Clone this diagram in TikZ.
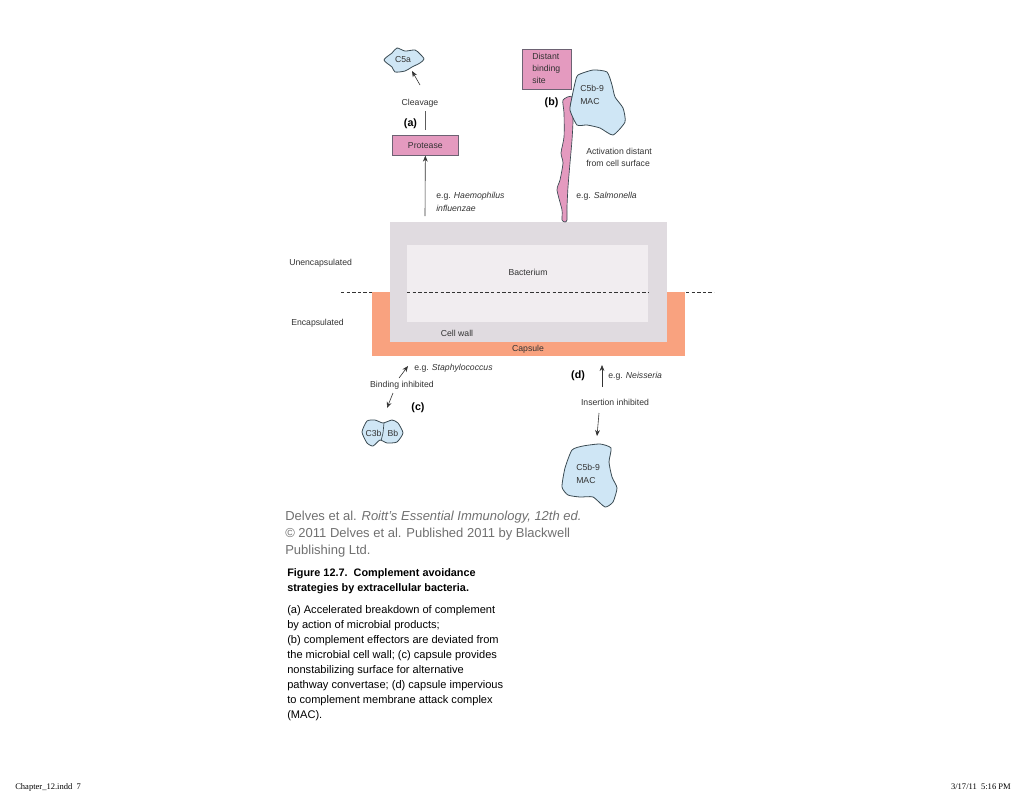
\documentclass[tikz,border=0pt]{standalone}
\usepackage{fontspec}
\setmainfont{Liberation Sans}
\newfontfamily\footfont{Liberation Serif}
\usetikzlibrary{arrows.meta}
\definecolor{wallc}{HTML}{E0DBE0}
\definecolor{innerc}{HTML}{F1EDF0}
\definecolor{capc}{HTML}{F9A27F}
\definecolor{pinkc}{HTML}{E49ABF}
\definecolor{bluec}{HTML}{CFE6F5}
\definecolor{inkc}{HTML}{333333}
\definecolor{edgec}{HTML}{3A4A52}
\definecolor{credc}{HTML}{707070}
\tikzset{
  lab/.style={font=\fontsize{6.5}{9.4}\selectfont,text=inkc,inner sep=0pt,align=left},
  tag/.style={font=\fontsize{8}{10}\selectfont\bfseries,text=black,inner sep=0pt},
  pinkbox/.style={draw=edgec!70!pinkc,line width=0.5pt,fill=pinkc,inner sep=0pt},
  blob/.style={draw=edgec,line width=0.6pt,fill=bluec},
  arr/.style={draw=inkc,line width=0.45pt,-{Stealth[length=4.5pt,width=3.6pt]}},
  plainln/.style={draw=inkc!80,line width=0.45pt},
  dashln/.style={draw=inkc,line width=0.3pt,dash pattern=on 2.6pt off 1.6pt},
  foot/.style={font=\footfont\fontsize{6.4}{8}\selectfont,inner sep=0pt,text=black}
}
\begin{document}
\begin{tikzpicture}[x=0.75pt,y=-0.75pt]
\useasboundingbox (0,0) rectangle (1024,793);
% bacterium
\fill[capc] (372,292) rectangle (685,356);
\fill[wallc] (390,222) rectangle (667,342);
\fill[innerc] (407,245) rectangle (648,322);
\coordinate (d1a) at (341,292); \coordinate (d1b) at (372,292);
\coordinate (d2a) at (407,292); \coordinate (d2b) at (648,292);
\coordinate (d3a) at (686,292); \coordinate (d3b) at (714,292);
\draw[dashln] (d1a) -- (d1b);
\draw[dashln] (d2a) -- (d2b);
\draw[dashln] (d3a) -- (d3b);
\node[lab,anchor=center] (bact) at (528,272.5) {Bacterium};
\node[lab,anchor=center] (wall) at (457,333.5) {Cell wall};
\node[lab,anchor=center] (caps) at (528,349.5) {Capsule};
\node[lab,anchor=base west] (unenc) at (289,265) {Unencapsulated};
\node[lab,anchor=base west] (enc) at (291,325) {Encapsulated};
% top left
\path[blob] plot[smooth cycle,tension=0.45] coordinates {(384,60)(392,53)(397,48)(405,51)(415,50)(420,54)(424,59)(420,63)(412,67)(405,71)(395,72)(392,67)};
\node[lab,anchor=center] (c5a) at (403,60) {C5a};
\node[lab,anchor=center] (cleav) at (420,103.5) {Cleavage};
\node[tag,anchor=center] (taga) at (410.5,123.5) {(a)};
\node[pinkbox,minimum width=49.5pt,minimum height=15pt,anchor=north west] (prot) at (392,135) {};
\node[lab,anchor=center] at (prot.center) {Protease};
\coordinate (a1) at (420,85); \coordinate (a2) at (412,71);
\draw[arr] (a1) -- (a2);
\coordinate (l1) at (425.5,111); \coordinate (l2) at (425.5,130);
\draw[plainln] (l1) -- (l2);
\coordinate (p1) at (425,216);
\draw[arr] (p1) -- (prot.south);
\node[lab,anchor=base west] (haem) at (436,211) {e.g. \textit{Haemophilus}\\\textit{influenzae}};
% top right
\node[pinkbox,minimum width=36.75pt,minimum height=30pt,anchor=north west] (dist) at (522,49) {};
\node[lab,anchor=north west,font=\fontsize{6.5}{9}\selectfont] (distt) at (532,53) {Distant\\binding\\site};
\node[tag,anchor=center] (tagb) at (551.5,103) {(b)};
\path[draw=edgec,line width=0.5pt,fill=pinkc] plot[smooth cycle,tension=0.4] coordinates {(572,97)(563,100)(564,113)(564,137)(561,153)(563,163)(560,180)(557,190)(562,210)(562,220)(565,222)(567,220)(567,207)(568,187)(570,163)(572,140)(573,120)};
\path[blob] plot[smooth cycle,tension=0.35] coordinates {(570,110)(572,97)(575,83)(578,75)(593,70)(607,72)(612,85)(615,97)(623,108)(625,122)(613,135)(600,128)(587,125)(577,125)};
\node[lab,anchor=north west] (mac1) at (580,85) {C5b-9\\MAC};
\node[lab,anchor=north west,font=\fontsize{6.5}{9.2}\selectfont] (act) at (586,148) {Activation distant\\from cell surface};
\node[lab,anchor=base west] (salm) at (576,198) {e.g. \textit{Salmonella}};
% lower left
\node[lab,anchor=base west] (staph) at (414,370) {e.g. \textit{Staphylococcus}};
\node[lab,anchor=center] (bind) at (402,385) {Binding inhibited};
\node[tag,anchor=center] (tagc) at (418,407.5) {(c)};
\coordinate (b1) at (399,378); \coordinate (b2) at (408,366);
\coordinate (b3) at (393,393); \coordinate (b4) at (387,408);
\draw[arr] (b1) -- (b2);
\draw[arr] (b3) -- (b4);
\path[blob] plot[smooth cycle,tension=0.35] coordinates {(362,432)(367,421)(375,420)(383,423)(392,420)(398,423)(403,433)(397,442)(387,443)(380,440)(373,446)(367,443)};
\coordinate (v1) at (384,423); \coordinate (v2) at (383,433); \coordinate (v3) at (381,441);
\draw[draw=edgec,line width=0.5pt] (v1) -- (v2) -- (v3);
\node[lab,anchor=center] (c3b) at (373.5,433) {C3b};
\node[lab,anchor=center] (bb) at (393,433) {Bb};
% lower right
\node[tag,anchor=center] (tagd) at (578,375.5) {(d)};
\node[lab,anchor=base west] (neis) at (608,378) {e.g. \textit{Neisseria}};
\node[lab,anchor=center] (ins) at (615,402.5) {Insertion inhibited};
\coordinate (e1) at (602,387); \coordinate (e2) at (602,365);
\coordinate (e3) at (599,413); \coordinate (e4) at (597,436);
\draw[arr] (e1) -- (e2);
\draw[arr] (e3) -- (e4);
\path[blob] plot[smooth cycle,tension=0.35] coordinates {(562,487)(565,468)(572,450)(583,446)(600,444)(611,448)(609,462)(612,477)(617,488)(613,502)(605,507)(593,497)(580,497)(568,495)};
\node[lab,anchor=north west] (mac2) at (576,464) {C5b-9\\MAC};
% credit
\node[inner sep=0pt,anchor=north west,align=left,text=credc,font=\fontsize{9.75}{12.6}\selectfont] (cred) at (285,511) {Delves et al. \textit{Roitt's Essential Immunology, 12th ed.}\\© 2011 Delves et al. Published 2011 by Blackwell\\Publishing Ltd.};
\node[inner sep=0pt,anchor=north west,align=left,font=\fontsize{8.15}{11.2}\selectfont\bfseries] (figt) at (287,568.5) {Figure 12.7.\ \ Complement avoidance\\strategies by extracellular bacteria.};
\node[inner sep=0pt,anchor=north west,align=left,font=\fontsize{8.3}{11.25}\selectfont] (body) at (287,605.5) {(a) Accelerated breakdown of complement\\by action of microbial products;\\(b) complement effectors are deviated from\\the microbial cell wall; (c) capsule provides\\nonstabilizing surface for alternative\\pathway convertase; (d) capsule impervious\\to complement membrane attack complex\\(MAC).};
% footer
\node[foot,anchor=base west] (fl) at (15,789) {Chapter\_12.indd\ \ 7};
\node[foot,anchor=base east] (fr) at (1011,789) {3/17/11\ \ 5:16 PM};
\end{tikzpicture}
\end{document}
